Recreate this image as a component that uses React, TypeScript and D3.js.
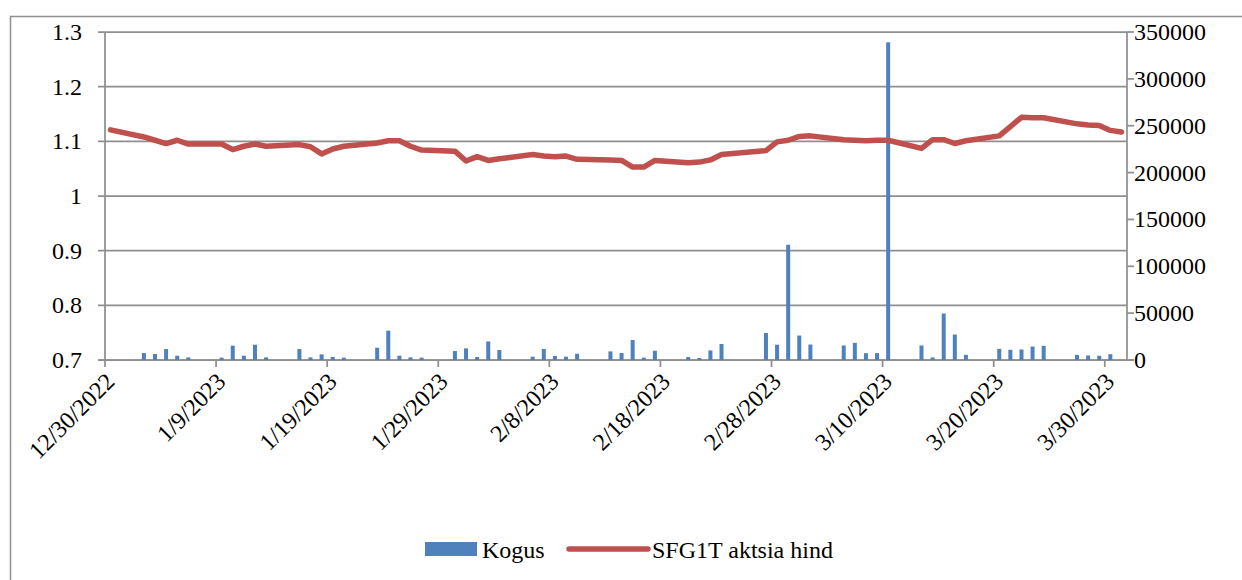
import * as d3 from 'd3';

// trading days (M/D/YYYY)
const days = [
  '12/30/2022',
  '1/2/2023', '1/3/2023', '1/4/2023', '1/5/2023', '1/6/2023',
  '1/9/2023', '1/10/2023', '1/11/2023', '1/12/2023', '1/13/2023',
  '1/16/2023', '1/17/2023', '1/18/2023', '1/19/2023', '1/20/2023',
  '1/23/2023', '1/24/2023', '1/25/2023', '1/26/2023', '1/27/2023',
  '1/30/2023', '1/31/2023', '2/1/2023', '2/2/2023', '2/3/2023',
  '2/6/2023', '2/7/2023', '2/8/2023', '2/9/2023', '2/10/2023',
  '2/13/2023', '2/14/2023', '2/15/2023', '2/16/2023', '2/17/2023',
  '2/20/2023', '2/21/2023', '2/22/2023', '2/23/2023',
  '2/27/2023', '2/28/2023', '3/1/2023', '3/2/2023', '3/3/2023',
  '3/6/2023', '3/7/2023', '3/8/2023', '3/9/2023', '3/10/2023',
  '3/13/2023', '3/14/2023', '3/15/2023', '3/16/2023', '3/17/2023',
  '3/20/2023', '3/21/2023', '3/22/2023', '3/23/2023', '3/24/2023',
  '3/27/2023', '3/28/2023', '3/29/2023', '3/30/2023', '3/31/2023',
];

// SFG1T aktsia hind
const price = [
  1.121,
  1.108, 1.102, 1.096, 1.102, 1.095,
  1.095, 1.085, 1.091, 1.095, 1.091,
  1.094, 1.090, 1.077, 1.086, 1.091,
  1.097, 1.101, 1.101, 1.091, 1.084,
  1.082, 1.064, 1.072, 1.065, 1.068,
  1.076, 1.073, 1.072, 1.073, 1.067,
  1.066, 1.065, 1.053, 1.053, 1.065,
  1.061, 1.062, 1.066, 1.076,
  1.083, 1.099, 1.102, 1.109, 1.110,
  1.103, 1.102, 1.101, 1.102, 1.102,
  1.087, 1.103, 1.103, 1.096, 1.101,
  1.110, 1.127, 1.144, 1.143, 1.143,
  1.132, 1.130, 1.129, 1.120, 1.117,
];

// Kogus
const volume = [
  0,
  7500, 6400, 11700, 4600, 2800,
  2500, 15300, 4600, 16300, 2800,
  11700, 2800, 6000, 3200, 2500,
  13100, 31300, 4600, 2800, 2500,
  9600, 12400, 3200, 19800, 10700,
  3500, 11700, 4300, 3500, 6700,
  9200, 7500, 21300, 2500, 9900,
  3200, 2100, 10200, 17100,
  28800, 16300, 123000, 26100, 16500,
  15500, 18300, 7300, 7300, 339000,
  15500, 2700, 49600, 27200, 5500,
  11900, 10900, 11200, 14400, 15100,
  5500, 4800, 4500, 6200, 0,
];

const xTickLabels = [
  '12/30/2022', '1/9/2023', '1/19/2023', '1/29/2023', '2/8/2023',
  '2/18/2023', '2/28/2023', '3/10/2023', '3/20/2023', '3/30/2023',
];
const leftTicks = [0.7, 0.8, 0.9, 1, 1.1, 1.2, 1.3];
const rightTicks = [0, 50000, 100000, 150000, 200000, 250000, 300000, 350000];

const W = 1242;
const H = 580;
const left = 105;
const right = 1127;
const top = 32;
const bottom = 360;

const parse = d3.timeParse('%m/%d/%Y');
const blue = '#4F81BD';
const red = '#C0504D';
const grid = '#8f8f8f';
const font = "'Liberation Serif', Tinos, 'Times New Roman', 'DejaVu Serif', 'Noto Serif', serif";
const fs = 24;

export default function App() {
  const start = parse(days[0]) as Date;
  const end = d3.timeDay.offset(parse(days[days.length - 1]) as Date, 1);

  const x = d3.scaleTime().domain([start, end]).range([left, right]);
  const yL = d3.scaleLinear().domain([0.7, 1.3]).range([bottom, top]);
  const yR = d3.scaleLinear().domain([0, 350000]).range([bottom, top]);

  // centre of the day slot
  const cx = (s: string) => {
    const d = parse(s) as Date;
    return (x(d) + x(d3.timeDay.offset(d, 1))) / 2;
  };

  const line = d3.line<number>()
    .x((_, i) => cx(days[i]))
    .y((v) => yL(v));

  const barW = 4;

  return (
    <svg width={W} height={H} style={{ position: 'absolute', left: 0, top: 0, background: '#fff' }}>
      <rect x={10.5} y={16.5} width={1260} height={620} fill="none" stroke={grid} strokeWidth={1.5} />

      {/* gridlines + left axis */}
      {leftTicks.map((t) => (
        <g key={t}>
          <line x1={left - 7} x2={right} y1={yL(t)} y2={yL(t)} stroke={grid} strokeWidth={1.75} />
          <text
            x={82}
            y={yL(t)}
            textAnchor="end"
            dominantBaseline="central"
            fontFamily={font}
            fontSize={fs}
          >
            {d3.format('')(t)}
          </text>
        </g>
      ))}
      <line x1={left} x2={left} y1={top} y2={bottom} stroke={grid} strokeWidth={1.75} />

      {/* right axis */}
      <line x1={right} x2={right} y1={top} y2={bottom} stroke={grid} strokeWidth={1.75} />
      {rightTicks.map((t) => (
        <g key={t}>
          <line x1={right} x2={right + 7} y1={yR(t)} y2={yR(t)} stroke={grid} strokeWidth={1.75} />
          <text
            x={right + 7}
            y={yR(t)}
            dominantBaseline="central"
            fontFamily={font}
            fontSize={fs}
          >
            {t}
          </text>
        </g>
      ))}

      {/* bottom axis */}
      <line x1={left - 7} x2={right + 7} y1={bottom} y2={bottom} stroke={grid} strokeWidth={1.75} />
      {xTickLabels.map((s) => {
        const tx = x(parse(s) as Date);
        return (
          <g key={s}>
            <line x1={tx} x2={tx} y1={bottom} y2={bottom + 7} stroke={grid} strokeWidth={1.75} />
            <text
              transform={`translate(${tx + 11},${bottom + 23}) rotate(-45)`}
              textAnchor="end"
              fontFamily={font}
              fontSize={fs}
            >
              {s}
            </text>
          </g>
        );
      })}

      {/* volume bars */}
      {volume.map((v, i) =>
        v > 0 ? (
          <rect
            key={days[i]}
            x={cx(days[i]) - barW / 2}
            y={yR(v)}
            width={barW}
            height={yR(0) - yR(v)}
            fill={blue}
          />
        ) : null
      )}

      {/* price line */}
      <path
        d={line(price) ?? ''}
        fill="none"
        stroke={red}
        strokeWidth={5.5}
        strokeLinejoin="round"
        strokeLinecap="round"
      />

      {/* legend */}
      <rect x={425} y={542} width={52} height={14} fill={blue} />
      <text x={482} y={558} fontFamily={font} fontSize={fs}>Kogus</text>
      <line x1={569} x2={648} y1={549} y2={549} stroke={red} strokeWidth={5.5} strokeLinecap="round" />
      <text x={652} y={558} fontFamily={font} fontSize={fs}>SFG1T aktsia hind</text>
    </svg>
  );
}
